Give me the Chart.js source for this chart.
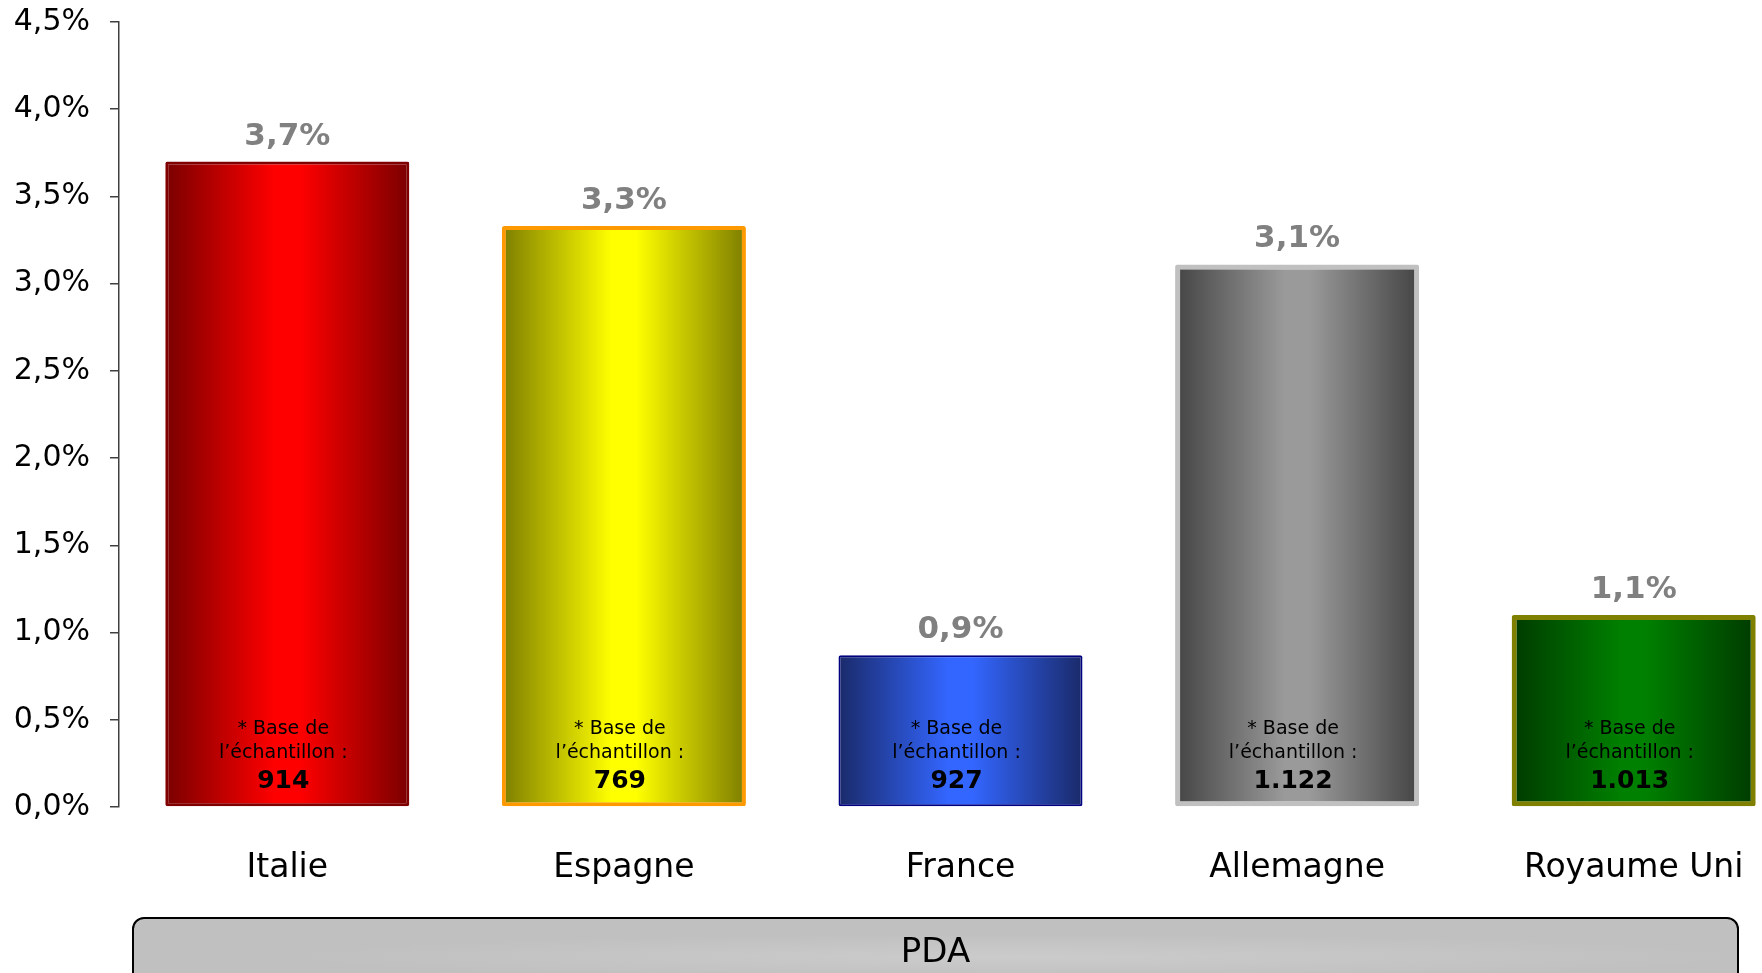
<!DOCTYPE html>
<html>
<head>
<meta charset="utf-8">
<script src="https://cdn.jsdelivr.net/npm/chart.js@4"></script>
<style>
  html, body { margin: 0; padding: 0; background: #fff; overflow: hidden; }
  #wrap { position: absolute; left: 0; top: 0; width: 1810px; height: 973px; }
  #pda {
    position: absolute; left: 132px; top: 917px; width: 1607px; height: 80px;
    box-sizing: border-box; border: 2.5px solid #000; border-radius: 12px;
    background: radial-gradient(ellipse 45% 30% at 55% 50%, #cbcbcb, #c0c0c0);
    font-family: 'DejaVu Sans', sans-serif; font-size: 34px; color: #000;
    text-align: center; line-height: 62px;
  }
</style>
</head>
<body>
<div id="wrap"><canvas id="chart" width="1810" height="973"></canvas></div>
<div id="pda">PDA</div>
<script>
'use strict';

// ── Data ────────────────────────────────────────────────────────
const countries = ['Italie', 'Espagne', 'France', 'Allemagne', 'Royaume Uni'];
const shares = [3.70, 3.33, 0.87, 3.11, 1.10];
const sampleSizes = ['914', '769', '927', '1.122', '1.013'];
const yTicks = [0, 0.5, 1, 1.5, 2, 2.5, 3, 3.5, 4, 4.5];

// ── Bar styling ─────────────────────────────────────────────────
const GRAD = [
  ['#7a0000', '#ff0000'],
  ['#7d7d00', '#ffff00'],
  ['#1a2a6a', '#3366ff'],
  ['#444444', '#9a9a9a'],
  ['#003a00', '#008000']
];
const BORDERS = ['#800000', '#ff9900', '#000080', '#c0c0c0', '#808000'];
const BORDER_W = [3, 4, 2, 5, 5];
const BAR_PCT = 0.725;

const fmt = v => v.toFixed(1).replace('.', ',') + '%';

function barGradient(context) {
  const chart = context.chart;
  const x = chart.scales.x;
  if (!chart.chartArea || !x) return GRAD[context.dataIndex][1];
  const cx = x.getPixelForValue(context.dataIndex);
  const half = (x.width / countries.length) * BAR_PCT / 2;
  const g = chart.ctx.createLinearGradient(cx - half, 0, cx + half, 0);
  const [dark, bright] = GRAD[context.dataIndex];
  g.addColorStop(0, dark);
  g.addColorStop(0.45, bright);
  g.addColorStop(0.55, bright);
  g.addColorStop(1, dark);
  return g;
}

// ── Labels on / above the bars ─────────────────────────────────
const barText = {
  id: 'barText',
  afterDatasetsDraw(chart) {
    const ctx = chart.ctx;
    const meta = chart.getDatasetMeta(0);
    ctx.save();
    ctx.textAlign = 'center';
    ctx.textBaseline = 'alphabetic';
    meta.data.forEach((bar, i) => {
      ctx.fillStyle = '#808080';
      ctx.font = 'bold 31px "DejaVu Sans"';
      ctx.fillText(fmt(shares[i]), bar.x, bar.y - 17);

      const bottom = bar.base;
      const cx = bar.x - 4;
      ctx.fillStyle = '#000';
      ctx.font = '19px "DejaVu Sans"';
      ctx.fillText('* Base de', cx, bottom - 72);
      ctx.fillText('l\u2019échantillon :', cx, bottom - 48);
      ctx.font = 'bold 25px "DejaVu Sans"';
      ctx.fillText(sampleSizes[i], cx, bottom - 18);
    });
    ctx.restore();
  }
};

// ── Chart ───────────────────────────────────────────────────────
new Chart(document.getElementById('chart'), {
  type: 'bar',
  data: {
    labels: countries,
    datasets: [{
      data: shares,
      backgroundColor: barGradient,
      borderColor: BORDERS,
      borderWidth: BORDER_W,
      borderSkipped: false,
      borderRadius: 2,
      categoryPercentage: 1,
      barPercentage: BAR_PCT
    }]
  },
  options: {
    responsive: false,
    devicePixelRatio: 1,
    animation: false,
    layout: { padding: { top: 22, right: 8, bottom: 66, left: 0 } },
    plugins: {
      legend: { display: false },
      tooltip: { enabled: false }
    },
    scales: {
      x: {
        grid: { display: false, drawTicks: false },
        border: { display: false },
        ticks: {
          color: '#000',
          padding: 42,
          font: { family: 'DejaVu Sans', size: 33 }
        },
        afterFit: s => { s.height = 100; }
      },
      y: {
        min: 0,
        max: 4.5,
        afterBuildTicks: s => { s.ticks = yTicks.map(v => ({ value: v })); },
        grid: {
          drawOnChartArea: false,
          drawTicks: true,
          tickLength: 9,
          color: '#404040',
          lineWidth: 1.5
        },
        border: { display: true, color: '#404040', width: 1.5 },
        ticks: {
          color: '#000',
          padding: 20,
          font: { family: 'DejaVu Sans', size: 30 },
          callback: v => fmt(v)
        },
        afterFit: s => {
          s.width = 119;
          s.paddingTop = 0;
          s.paddingBottom = 0;
        }
      }
    }
  },
  plugins: [barText]
});
</script>
</body>
</html>
